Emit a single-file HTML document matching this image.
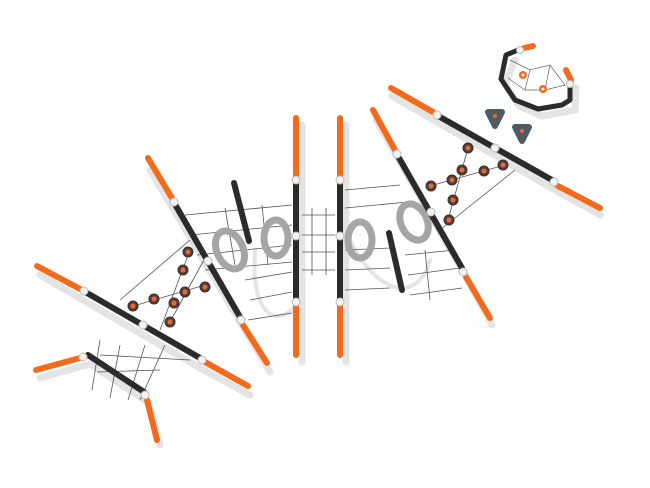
<!DOCTYPE html>
<html><head><meta charset="utf-8"><style>html,body{margin:0;padding:0;background:#fff}svg{display:block}</style></head>
<body>
<svg width="650" height="488" viewBox="0 0 650 488" xmlns="http://www.w3.org/2000/svg">
<defs>
<g id="hold"><circle r="5" fill="#5a3a36" stroke="#333" stroke-width="1"/><circle r="2.5" fill="#e06a3a"/></g>
</defs>
<!-- shadows -->
<g stroke="#e4e4e4" stroke-width="7" stroke-linecap="round" fill="none">
<path d="M40 275 L200 368 L250 395"/>
<path d="M40 378 L90 364 L148 402 L160 445"/>
<path d="M150 170 L245 330 L270 372"/>
<path d="M302 125 L302 362"/>
<path d="M346 125 L346 362"/>
<path d="M376 120 L468 280 L492 325"/>
<path d="M392 96 L555 190 L600 215"/>
<path d="M515 60 L505 84 L519 106 L542 116 L575 110 L576 88"/>
<path d="M255 250 C 250 320, 280 330, 300 300" stroke-width="4"/>
<path d="M350 240 C 380 300, 420 300, 430 260" stroke-width="4"/>
</g>
<!-- nets -->
<g stroke="#555" stroke-width="0.8" fill="none">
<path d="M185 215 L292 205 M190 235 L292 225 M197 255 L292 245 M205 270 L292 262"/>
<path d="M225 208 L235 265 M262 205 L268 265"/>
<path d="M245 280 L292 272 M250 300 L292 292 M248 320 L292 313"/>
<path d="M302 215 L335 215 M302 235 L335 235 M302 252 L335 252 M302 270 L335 270 M312 208 L312 275 M326 208 L326 275"/>
<path d="M345 190 L400 185 M345 208 L408 202 M345 250 L390 248 M345 270 L390 268 M345 290 L390 288"/>
<path d="M405 255 L455 250 M408 275 L460 268 M410 295 L462 288 M425 250 L430 300"/>
<path d="M100 340 L92 390 M120 345 L110 398 M145 345 L128 400 M165 345 L140 400 M100 355 L190 360 M97 372 L160 370"/>
<path d="M120 300 L190 240 M440 230 L515 170"/>
<path d="M205 258 L170 322 M190 250 L160 330 M130 307 L205 285 M468 148 L448 220 M430 186 L505 165"/>
</g>
<!-- rings -->
<g fill="none" stroke="#a5a5a5" stroke-width="7">
<ellipse cx="230" cy="250" rx="13" ry="20" transform="rotate(-25 230 250)"/>
<ellipse cx="276" cy="238" rx="12" ry="18"/>
<ellipse cx="360" cy="240" rx="12" ry="18"/>
<ellipse cx="414" cy="222" rx="13" ry="19" transform="rotate(-25 414 222)"/>
</g>
<!-- orange parts -->
<g stroke="#f26a1b" stroke-width="6" stroke-linecap="round" fill="none">
<path d="M37 266 L82 290"/>
<path d="M205 362 L248 386"/>
<path d="M36 370 L80 358"/>
<path d="M147 400 L157 440"/>
<path d="M148 158 L172 198"/>
<path d="M243 325 L267 363"/>
<path d="M296 118 L296 176"/>
<path d="M296 306 L296 355"/>
<path d="M340 118 L340 176"/>
<path d="M340 306 L340 355"/>
<path d="M373 110 L395 150"/>
<path d="M466 277 L490 318"/>
<path d="M391 88 L433 112"/>
<path d="M558 186 L600 208"/>
<path d="M524 48 L533 46"/>
<path d="M566 70 L571 80"/>
</g>
<!-- black parts -->
<g stroke="#2b2b2b" stroke-width="6" stroke-linecap="round" fill="none">
<path d="M87 293 L200 358"/>
<path d="M88 355 L144 392"/>
<path d="M176 206 L240 317"/>
<path d="M234 183 L249 241"/>
<path d="M296 182 L296 300"/>
<path d="M340 182 L340 300"/>
<path d="M399 158 L462 268"/>
<path d="M389 233 L402 290"/>
<path d="M440 117 L552 180"/>
<path d="M518 50 L506 55 L501 79 L515 100 L538 109 L562 105 L570 100 L570 84" stroke-width="5" stroke-linejoin="round"/>
</g>
<!-- joints -->
<g fill="#f2f2f2" stroke="#bbb" stroke-width="1">
<circle cx="84" cy="291" r="4"/><circle cx="143" cy="325" r="4"/><circle cx="202" cy="360" r="4"/>
<circle cx="83" cy="357" r="4"/><circle cx="145" cy="395" r="4"/>
<circle cx="174" cy="202" r="4"/><circle cx="208" cy="261" r="4"/><circle cx="241" cy="320" r="4"/>
<circle cx="296" cy="180" r="4"/><circle cx="296" cy="236" r="4"/><circle cx="296" cy="302" r="4"/>
<circle cx="340" cy="180" r="4"/><circle cx="340" cy="236" r="4"/><circle cx="340" cy="302" r="4"/>
<circle cx="397" cy="154" r="4"/><circle cx="431" cy="212" r="4"/><circle cx="463" cy="272" r="4"/>
<circle cx="437" cy="115" r="4"/><circle cx="495" cy="148" r="4"/><circle cx="554" cy="182" r="4"/>
<circle cx="520" cy="50" r="3.5"/><circle cx="570" cy="84" r="3.5"/>
</g>
<!-- holds -->
<use href="#hold" x="188" y="252"/><use href="#hold" x="183" y="270"/><use href="#hold" x="185" y="292"/>
<use href="#hold" x="174" y="303"/><use href="#hold" x="170" y="322"/><use href="#hold" x="205" y="287"/>
<use href="#hold" x="154" y="299"/><use href="#hold" x="133" y="306"/>
<use href="#hold" x="468" y="148"/><use href="#hold" x="462" y="170"/><use href="#hold" x="453" y="200"/>
<use href="#hold" x="449" y="220"/><use href="#hold" x="431" y="186"/><use href="#hold" x="452" y="180"/>
<use href="#hold" x="484" y="171"/><use href="#hold" x="503" y="165"/>
<path d="M488 112 L502 112 L495 126 Z" fill="#4f5a62" stroke="#4f5a62" stroke-linejoin="round" stroke-width="6"/>
<path d="M515 127 L529 127 L522 141 Z" fill="#4f5a62" stroke="#4f5a62" stroke-linejoin="round" stroke-width="6"/>
<circle cx="495" cy="116" r="2" fill="#e06a3a"/><circle cx="522" cy="131" r="2" fill="#e06a3a"/>
<g stroke="#666" stroke-width="0.7" fill="none"><path d="M510 60 L530 70 L550 65 L565 85 L545 90 L525 90 L508 78 M530 70 L525 90 M550 65 L545 90"/></g>
<circle cx="523" cy="75" r="4" fill="#f26a1b"/><circle cx="543" cy="89" r="4" fill="#f26a1b"/>
<circle cx="523" cy="75" r="1.5" fill="#fff"/><circle cx="543" cy="89" r="1.5" fill="#fff"/>
</svg>
</body></html>
